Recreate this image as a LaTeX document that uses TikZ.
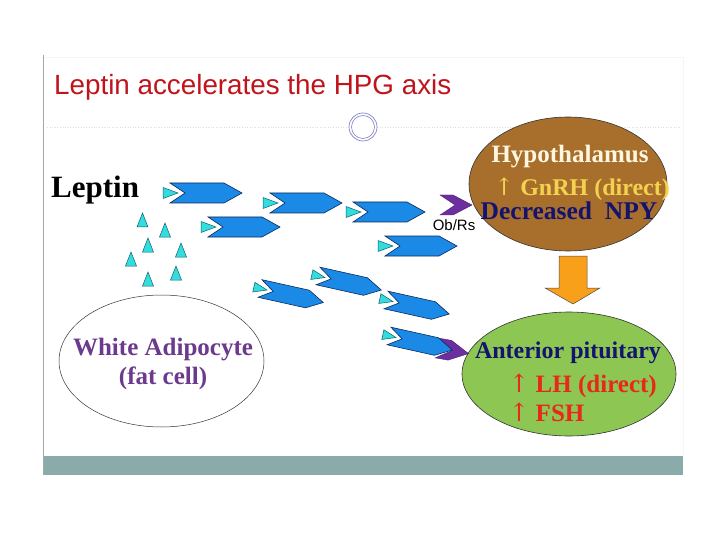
\documentclass[tikz,border=0pt]{standalone}
\usepackage{fontspec}
\setmainfont{Liberation Serif}
\newfontfamily\arial{Liberation Sans}
\newfontfamily\djv{DejaVu Serif}
\usetikzlibrary{shapes.geometric}
\definecolor{titlered}{HTML}{C0141C}
\definecolor{hypo}{HTML}{A86E2C}
\definecolor{pitg}{HTML}{8DC653}
\definecolor{ablue}{HTML}{1A8AE6}
\definecolor{adark}{HTML}{0A2A60}
\definecolor{lep}{HTML}{33DDDD}
\definecolor{lepedge}{HTML}{106070}
\definecolor{purp}{HTML}{6B2FA0}
\definecolor{orng}{HTML}{F9A01B}
\definecolor{adip}{HTML}{6B3A8E}
\definecolor{navy}{HTML}{14146E}
\definecolor{lhred}{HTML}{E8281A}
\definecolor{gnrh}{HTML}{F2D24E}
\definecolor{hyptext}{HTML}{FFF6E0}
\definecolor{barc}{HTML}{8AABAA}
\newcommand{\uparr}{{\djv\mdseries ↑}}
\tikzset{
  barrow/.pic={
    \filldraw[fill=ablue, draw=adark, line width=0.6pt] (0,-10) -- (54,-10) -- (72,0) -- (54,10) -- (0,10) -- (15,0) -- cycle;
    \draw[white, line width=3.5pt, line join=round] (-7,-5.5) -- (8,0) -- (-7,5.5) -- cycle;
    \filldraw[fill=lep, draw=lepedge, line width=0.5pt] (-7,-5.5) -- (8,0) -- (-7,5.5) -- cycle;
  },
  pchev/.pic={
    \filldraw[fill=purp, draw=purp!70!black, line width=0.4pt] (0,-10) -- (13,-10) -- (32,0) -- (13,10) -- (0,10) -- (15,0) -- cycle;
  },
  uptri/.style={fill=lep, draw=lepedge, line width=0.5pt},
  bfont/.style={font=\bfseries\fontsize{#1}{#1}\selectfont}
}
\begin{document}
\begin{tikzpicture}[x=1pt,y=-1pt]
\useasboundingbox (0,0) rectangle (720,540);
\fill[white] (0,0) rectangle (720,540);
% slide frame
\draw[gray!8, line width=0.8pt] (43,57) rectangle (683,456);
\fill[barc] (43,456) rectangle (683,475);
\draw[gray!70, line width=0.8pt] (43,55) -- (43,475);
% title
\node[anchor=base west, inner sep=0, font=\arial\fontsize{27.8}{32}\selectfont, text=titlered] (title) at (54,95) {Leptin accelerates the HPG axis};
\draw[gray!25, dotted, line width=0.6pt] (47,127) -- (680,127);
\filldraw[fill=white, draw=gray!60!blue!70, line width=0.7pt] (363,127) circle (14);
\draw[gray!60!blue!70, line width=0.6pt] (363,127) circle (11.5);
% hypothalamus
\node[ellipse, draw=black!80, line width=0.6pt, fill=hypo, minimum width=198pt, minimum height=134pt, inner sep=0] (hyp) at (568,184) {};
\node[bfont=25, text=hyptext] (hyp1) at (570,157) {Hypothalamus};
\node[bfont=24, text=gnrh] (hyp2) at (582,189) {\uparr\ GnRH (direct)};
\node[bfont=25.5, text=navy] (hyp3) at (569,211) {Decreased\ \ NPY};
% orange arrow
\filldraw[fill=orng, draw=black!70, line width=0.5pt] (559,256) -- (587,256) -- (587,288) -- (600,288) -- (573,304) -- (545,288) -- (559,288) -- cycle;
% anterior pituitary
\node[ellipse, draw=black!80, line width=0.6pt, fill=pitg, minimum width=214pt, minimum height=124pt, inner sep=0] (pit) at (569,374) {};
\node[bfont=24, text=navy] (pit1) at (568,353) {Anterior pituitary};
\node[bfont=25, text=lhred, anchor=west] (pit2) at (505,386) {\uparr\ LH (direct)};
\node[bfont=25, text=lhred, anchor=west] (pit3) at (505,412) {\uparr\ FSH};
% adipocyte
\node[ellipse, draw=black!80, line width=0.5pt, fill=white, minimum width=205pt, minimum height=132pt, inner sep=0] (adi) at (161.5,361) {};
\node[bfont=25, text=adip] (adi1) at (163,350) {White Adipocyte};
\node[bfont=25, text=adip] (adi2) at (163,378) {(fat cell)};
% leptin
\node[anchor=base west, inner sep=0, bfont=31, text=black] (lep) at (51,198) {Leptin};
% loose leptin triangles
\foreach \cx/\cy in {142.5/220,165/230,148/245,181/250,131/259,176/273,148/279}{
  \filldraw[uptri] (\cx-5.5,\cy+7) -- (\cx,\cy-7) -- (\cx+5.5,\cy+7) -- cycle;
}
% straight arrows
\pic at (170,193) {barrow};
\pic at (208,227) {barrow};
\pic at (270,203) {barrow};
\pic at (353,212) {barrow};
\pic at (385,246) {barrow};
% purple chevrons
\pic at (440,205) {pchev};
\node[anchor=center, inner sep=0, font=\arial\fontsize{15}{15}\selectfont] (obrs) at (454,225) {Ob/Rs};
\pic[rotate=-10] at (437,348) {pchev};
% tilted arrows
\pic[rotate=-12.5, scale=0.9] at (260,288.5) {barrow};
\pic[rotate=-12.5, scale=0.9] at (318,276) {barrow};
\pic[rotate=-12.5, scale=0.9] at (386,300) {barrow};
\pic[rotate=-12.5, scale=0.9] at (389,336) {barrow};
\end{tikzpicture}
\end{document}
